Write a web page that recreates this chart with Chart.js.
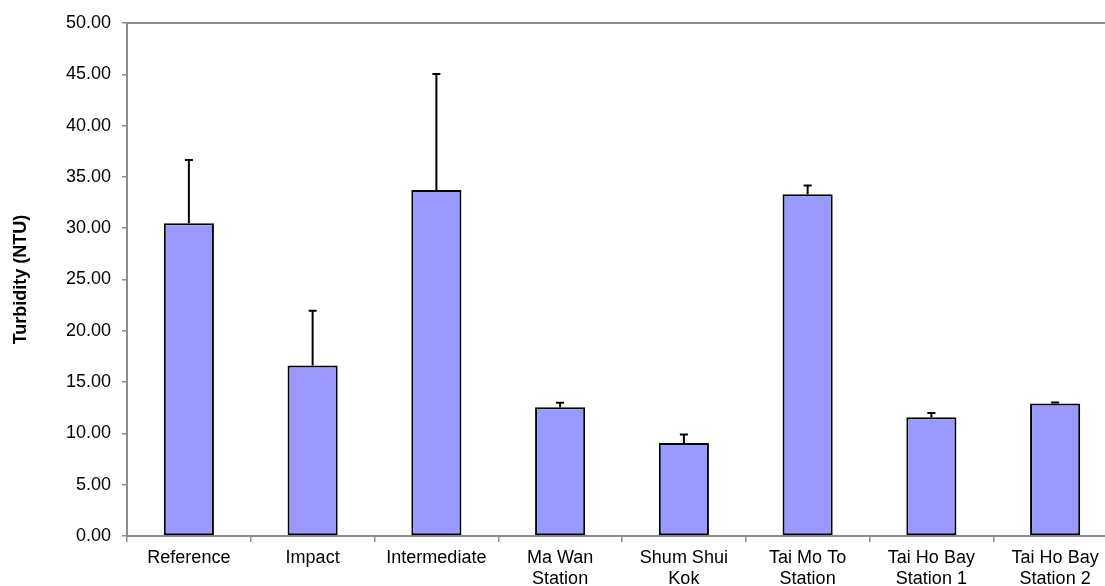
<!DOCTYPE html>
<html>
<head>
<meta charset="utf-8">
<script src="https://cdn.jsdelivr.net/npm/chart.js@4/dist/chart.umd.min.js"></script>
<style>
  html, body { margin: 0; padding: 0; background: #fff; overflow: hidden; }
  #wrap { width: 1117px; height: 600px; }
</style>
</head>
<body>
<div id="wrap"><canvas id="mycanvas"></canvas></div>
<script>
// stations
var stations = [
	'Reference', 'Impact', 'Intermediate', ['Ma Wan', 'Station'], ['Shum Shui', 'Kok'],
	['Tai Mo To', 'Station'], ['Tai Ho Bay', 'Station 1'], ['Tai Ho Bay', 'Station 2']
];
// mean turbidity (NTU)
var turbidity = [30.48, 16.62, 33.73, 12.56, 9.07, 33.31, 11.58, 12.92];
// upper error (NTU)
var errors = [6.17, 5.33, 11.29, 0.42, 0.82, 0.84, 0.42, 0.09];
var yTicks = [0, 5, 10, 15, 20, 25, 30, 35, 40, 45, 50];

// draws the plot area frame
var frame = {
	id: 'frame',
	beforeDatasetsDraw: function(chart) {
		var a = chart.chartArea, ctx = chart.ctx;
		ctx.save();
		ctx.strokeStyle = '#8c8c8c';
		ctx.lineWidth = 2;
		ctx.strokeRect(a.left, a.top, a.right - a.left, a.bottom - a.top);
		ctx.restore();
	}
};

// upper error bars
var errorBars = {
	id: 'errorBars',
	afterDatasetsDraw: function(chart) {
		var ctx = chart.ctx;
		var meta = chart.getDatasetMeta(0);
		var y = chart.scales.y;
		ctx.save();
		ctx.strokeStyle = '#000';
		ctx.lineWidth = 2;
		meta.data.forEach(function(bar, i) {
			var top = y.getPixelForValue(turbidity[i] + errors[i]);
			ctx.beginPath();
			ctx.moveTo(bar.x, bar.y);
			ctx.lineTo(bar.x, top);
			ctx.moveTo(bar.x - 4, top);
			ctx.lineTo(bar.x + 4, top);
			ctx.stroke();
		});
		ctx.restore();
	}
};

Chart.defaults.font.family = '"Liberation Sans", Arial, sans-serif';
Chart.defaults.color = '#000';

var ctx = document.getElementById('mycanvas');
var barGraph = new Chart(ctx, {
	type: 'bar',
	data: {
		labels: stations,
		datasets: [{
			label: 'Turbidity',
			data: turbidity,
			backgroundColor: '#9999ff',
			borderColor: '#000',
			borderWidth: 2,
			borderSkipped: false,
			categoryPercentage: 1,
			barPercentage: 0.405
		}]
	},
	options: {
		responsive: true,
		maintainAspectRatio: false,
		animation: false,
		layout: { padding: { top: 23, left: 0, right: 0, bottom: 0 } },
		plugins: {
			legend: { display: false },
			tooltip: { enabled: false }
		},
		scales: {
			x: {
				grid: { drawOnChartArea: false, tickLength: 6, color: '#8c8c8c', lineWidth: 1.5 },
				border: { color: '#8c8c8c', width: 2 },
				ticks: { font: { size: 18, lineHeight: 1.15 }, padding: 6, maxRotation: 0, autoSkip: false },
				afterFit: function(s) { s.height = 64; }
			},
			y: {
				min: 0,
				max: 50,
				afterBuildTicks: function(s) { s.ticks = yTicks.map(function(v) { return { value: v }; }); },
				grid: { drawOnChartArea: false, tickLength: 5, color: '#8c8c8c', lineWidth: 1.5 },
				border: { color: '#8c8c8c', width: 2 },
				ticks: {
					font: { size: 18 },
					padding: 11,
					callback: function(v) { return Number(v).toFixed(2); }
				},
				title: {
					display: true,
					text: 'Turbidity (NTU)',
					font: { size: 18, weight: 'bold' },
					padding: { top: 10, bottom: 0 }
				},
				afterFit: function(s) { s.width = 127; }
			}
		}
	},
	plugins: [frame, errorBars]
});
</script>
</body>
</html>
